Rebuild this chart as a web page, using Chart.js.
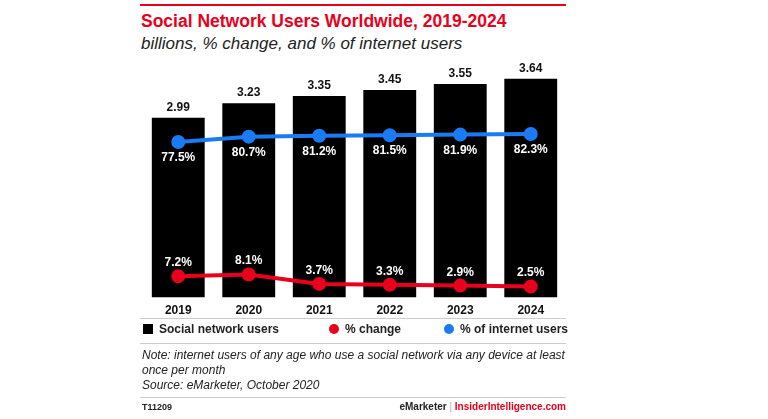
<!DOCTYPE html><html><head><meta charset="utf-8">
<script src="https://cdn.jsdelivr.net/npm/chart.js@4"></script>
<style>
body{margin:0;width:768px;height:419px;background:#fff;font-family:"Liberation Sans",Arial,sans-serif;position:relative;overflow:hidden}
.a{position:absolute}
</style></head><body>
<div class="a" style="left:140px;top:4px;width:426px;height:2px;background:#e8001c"></div>
<div class="a" style="left:141px;top:11px;font-size:17.5px;font-weight:bold;color:#e8001c">Social Network Users Worldwide, 2019-2024</div>
<div class="a" style="left:141px;top:34px;font-size:17px;font-style:italic;color:#222">billions, % change, and % of internet users</div>
<div class="a" style="left:134px;top:44px;width:441px;height:276px"><canvas id="c"></canvas></div>
<div class="a" style="left:140px;top:318px;width:426px;height:1px;background:#ccc"></div>
<div class="a" style="left:143px;top:322px;font-size:12px;font-weight:bold;color:#222;width:423px">
<span class="a" style="left:0;top:0;white-space:nowrap"><span style="display:inline-block;width:10px;height:10px;background:#000;vertical-align:-1px;margin-right:6px"></span>Social network users</span>
<span class="a" style="left:186px;top:0;white-space:nowrap"><span style="display:inline-block;width:10px;height:10px;border-radius:5px;background:#e8001c;vertical-align:-1px;margin-right:6px"></span>% change</span>
<span class="a" style="left:301px;top:0;white-space:nowrap"><span style="display:inline-block;width:10px;height:10px;border-radius:5px;background:#1a7cf5;vertical-align:-1px;margin-right:6px"></span>% of internet users</span>
</div>
<div class="a" style="left:140px;top:343px;width:426px;height:1px;background:#ccc"></div>
<div class="a" style="left:142px;top:348px;width:424px;font-size:12px;font-style:italic;color:#222;line-height:15px">Note: internet users of any age who use a social network via any device at least once per month<br>Source: eMarketer, October 2020</div>
<div class="a" style="left:140px;top:397px;width:426px;height:1px;background:#ccc"></div>
<div class="a" style="left:142px;top:402px;font-size:9px;font-weight:bold;color:#222">T11209</div>
<div class="a" style="right:202px;top:401px;font-size:10px;font-weight:bold;color:#222">eMarketer <span style="color:#aaa;font-weight:normal">|</span> <span style="color:#e8001c">InsiderIntelligence.com</span></div>
<script>
const categories=["2019","2020","2021","2022","2023","2024"];
const users=[2.99,3.23,3.35,3.45,3.55,3.64];
const pctChange=[7.2,8.1,3.7,3.3,2.9,2.5];
const pctInternet=[77.5,80.7,81.2,81.5,81.9,82.3];
const labelPlugin={id:'lbl',afterDatasetsDraw(ch){const x=ch.ctx;x.save();x.font='bold 12px "Liberation Sans",Arial';x.textAlign='center';
ch.getDatasetMeta(0).data.forEach((e,i)=>{x.fillStyle='#111';x.fillText(users[i].toFixed(2),e.x,e.y-7);});
ch.getDatasetMeta(2).data.forEach((e,i)=>{x.fillStyle='#fff';x.fillText(pctInternet[i].toFixed(1)+'%',e.x,e.y+19);});
ch.getDatasetMeta(1).data.forEach((e,i)=>{x.fillStyle='#fff';x.fillText(pctChange[i].toFixed(1)+'%',e.x,e.y-10);});
x.restore();}};
new Chart(document.getElementById('c'),{data:{labels:categories,datasets:[
{type:'bar',data:users,backgroundColor:'#000',categoryPercentage:1,barPercentage:0.75,yAxisID:'y',order:3},
{type:'line',data:pctChange,borderColor:'#e8001c',backgroundColor:'#e8001c',borderWidth:4,pointRadius:5,yAxisID:'y2',order:1},
{type:'line',data:pctInternet,borderColor:'#1a7cf5',backgroundColor:'#1a7cf5',borderWidth:4,pointRadius:5,yAxisID:'y3',order:2}]},
options:{responsive:true,maintainAspectRatio:false,animation:false,layout:{padding:{top:13,left:0,right:0,bottom:4}},
plugins:{legend:{display:false},tooltip:{enabled:false}},
scales:{x:{grid:{display:false},border:{display:false},ticks:{color:'#111',font:{weight:'bold',size:12,family:'"Liberation Sans",Arial'},padding:-2}},
y:{display:false,min:0,max:4},y2:{display:false,min:-2.67,max:109.2},y3:{display:false,min:-14.9,max:128}}},plugins:[labelPlugin]});
</script></body></html>
